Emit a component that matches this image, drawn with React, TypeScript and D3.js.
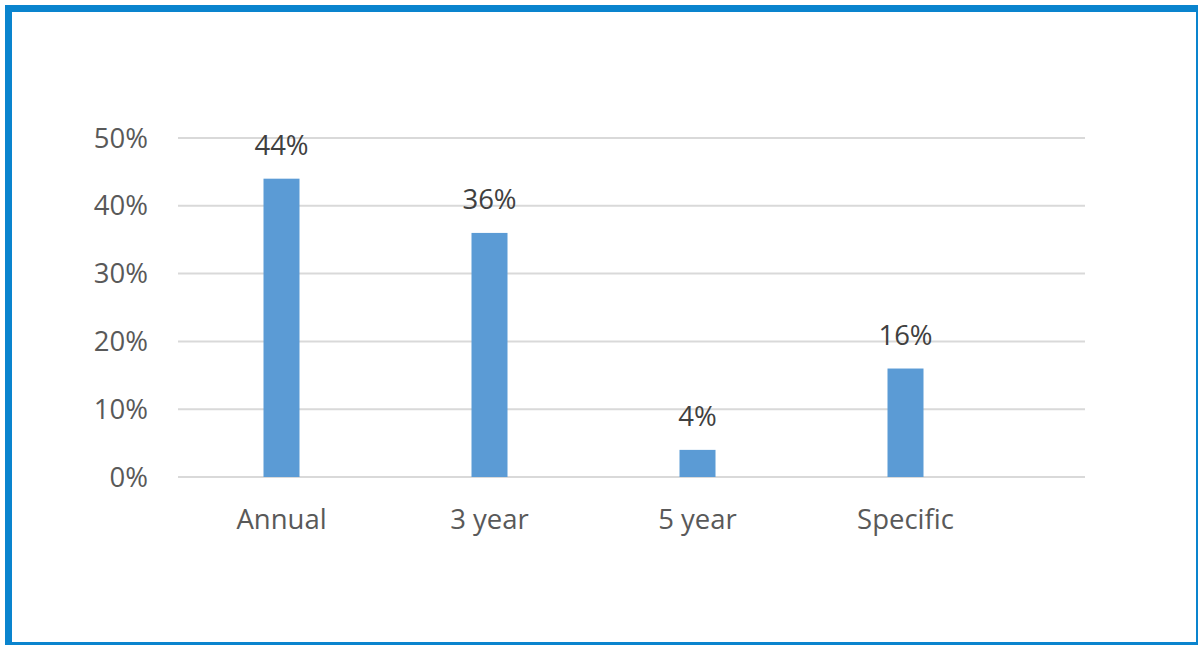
import React from "react";
import * as d3 from "d3";

const categories = ["Annual", "3 year", "5 year", "Specific"];
const values = [0.44, 0.36, 0.04, 0.16];
const yTicks = [0, 0.1, 0.2, 0.3, 0.4, 0.5];

const W = 1198;
const H = 645;
const FONT = "'Open Sans', 'Noto Sans', sans-serif";

export default function App() {
  const x = d3.scalePoint<string>().domain(categories).range([177.5, 1009.5]).padding(0.5);
  const y = d3.scaleLinear().domain([0, 0.5]).range([477, 138]);
  const barW = 36;
  const gridX0 = 178;
  const gridX1 = 1085;
  const fmt = d3.format(".0%");

  return (
    <svg width={W} height={H} style={{ position: "absolute", left: 0, top: 0, background: "#fff" }}>
      <rect x={0} y={0} width={W} height={H} fill="#fff" />
      {yTicks.map((t) => (
        <g key={t}>
          <line x1={gridX0} x2={gridX1} y1={y(t)} y2={y(t)} stroke="#d9d9d9" strokeWidth={2} />
          <text x={148} y={y(t)} dy="0.35em" textAnchor="end" fontFamily={FONT} fontSize={27.5} fill="#595959">
            {fmt(t)}
          </text>
        </g>
      ))}
      {categories.map((c, i) => (
        <g key={c}>
          <rect x={(x(c) as number) - barW / 2} y={y(values[i])} width={barW} height={y(0) - y(values[i])} fill="#5b9bd5" />
          <text x={x(c)} y={y(values[i]) - 24} textAnchor="middle" fontFamily={FONT} fontSize={27.5} fill="#404040">
            {fmt(values[i])}
          </text>
          <text x={x(c)} y={529} textAnchor="middle" fontFamily={FONT} fontSize={27.5} fill="#595959">
            {c}
          </text>
        </g>
      ))}
      <rect x={8.5} y={8.5} width={1191} height={637} fill="none" stroke="#0a84ce" strokeWidth={7} />
    </svg>
  );
}
